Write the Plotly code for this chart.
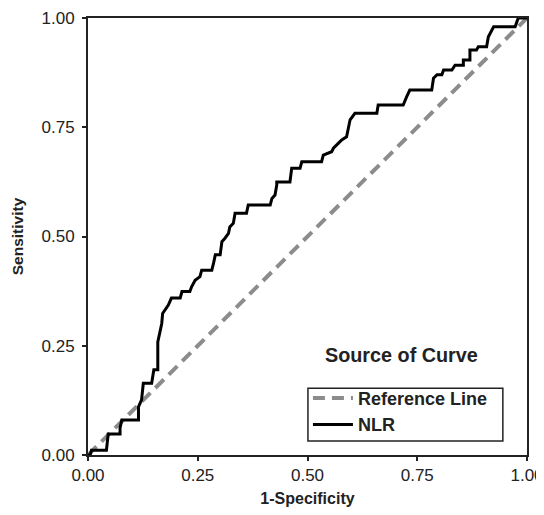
import plotly.graph_objects as go

# ROC curve vertices for NLR (1-Specificity, Sensitivity)
nlr_fpr = [0.000, 0.005, 0.008, 0.042, 0.046, 0.073, 0.073, 0.077, 0.115, 0.115,
           0.122, 0.126, 0.145, 0.150, 0.159, 0.159, 0.168, 0.170, 0.183, 0.190,
           0.210, 0.214, 0.232, 0.236, 0.244, 0.255, 0.259, 0.282, 0.286, 0.290,
           0.301, 0.305, 0.312, 0.320, 0.323, 0.331, 0.335, 0.361, 0.365, 0.415,
           0.419, 0.426, 0.430, 0.430, 0.460, 0.464, 0.483, 0.487, 0.532, 0.536,
           0.555, 0.559, 0.570, 0.578, 0.589, 0.593, 0.597, 0.608, 0.658, 0.661,
           0.718, 0.726, 0.733, 0.783, 0.787, 0.795, 0.806, 0.810, 0.829, 0.836,
           0.855, 0.855, 0.870, 0.870, 0.885, 0.889, 0.908, 0.912, 0.920, 0.924,
           0.973, 0.977, 0.980, 1.000]
nlr_tpr = [0.000, 0.000, 0.011, 0.011, 0.048, 0.048, 0.062, 0.080, 0.080, 0.110,
           0.126, 0.164, 0.164, 0.195, 0.195, 0.259, 0.301, 0.324, 0.343, 0.359,
           0.359, 0.374, 0.374, 0.385, 0.400, 0.408, 0.423, 0.423, 0.439, 0.458,
           0.458, 0.488, 0.496, 0.507, 0.522, 0.530, 0.553, 0.553, 0.572, 0.572,
           0.587, 0.595, 0.618, 0.625, 0.625, 0.656, 0.656, 0.671, 0.671, 0.686,
           0.694, 0.702, 0.713, 0.721, 0.728, 0.748, 0.767, 0.782, 0.782, 0.801,
           0.801, 0.820, 0.835, 0.835, 0.862, 0.870, 0.870, 0.881, 0.881, 0.892,
           0.892, 0.904, 0.904, 0.927, 0.927, 0.934, 0.934, 0.957, 0.973, 0.980,
           0.980, 0.992, 1.000, 1.000]

ref_x = [0.0, 1.0]
ref_y = [0.0, 1.0]

tick_vals = [0.0, 0.25, 0.5, 0.75, 1.0]
tick_text = ["0.00", "0.25", "0.50", "0.75", "1.00"]

FONT = "Liberation Sans, Arial, sans-serif"

fig = go.Figure()
fig.add_trace(go.Scatter(x=ref_x, y=ref_y, mode="lines", name="<b>Reference Line</b>",
                         line=dict(color="#8c8c8c", width=4, dash="12px,7px")))
fig.add_trace(go.Scatter(x=nlr_fpr, y=nlr_tpr, mode="lines", name="<b>NLR</b>",
                         line=dict(color="black", width=3)))

axis_common = dict(
    range=[0, 1], tickvals=tick_vals, ticktext=tick_text, automargin=False,
    showgrid=False, zeroline=False, showline=True, linecolor="#222",
    linewidth=2, mirror=True, ticks="outside", ticklen=4, tickwidth=2,
    tickcolor="#222", tickfont=dict(size=17, color="#222", family=FONT),
)

fig.update_layout(
    width=544, height=515,
    margin=dict(l=80, r=25, t=10, b=68),
    paper_bgcolor="white", plot_bgcolor="white",
    font=dict(family=FONT, color="#222"),
    xaxis=dict(**axis_common,
               title=dict(text="<b>1-Specificity</b>", font=dict(size=16), standoff=8)),
    yaxis=dict(**axis_common, ticklabelstandoff=4,
               title=dict(text="<b>Sensitivity</b>", font=dict(size=15.5), standoff=14)),
    showlegend=True,
    legend=dict(x=0.501, y=0.172, xanchor="left", yanchor="top",
                borderwidth=0, bgcolor="rgba(0,0,0,0)",
                font=dict(size=18, color="#222"), itemwidth=40,
                tracegroupgap=0),
    shapes=[dict(type="rect", xref="paper", yref="paper",
                 x0=0.501, x1=0.945, y0=0.032, y1=0.153,
                 line=dict(color="#222", width=1.5), fillcolor="rgba(0,0,0,0)",
                 layer="above")],
    annotations=[dict(text="<b>Source of Curve</b>", x=0.535, y=0.229,
                      xref="paper", yref="paper", xanchor="left", yanchor="middle",
                      showarrow=False, font=dict(size=19.8, color="#222"))],
)

fig.write_html("out.html")
